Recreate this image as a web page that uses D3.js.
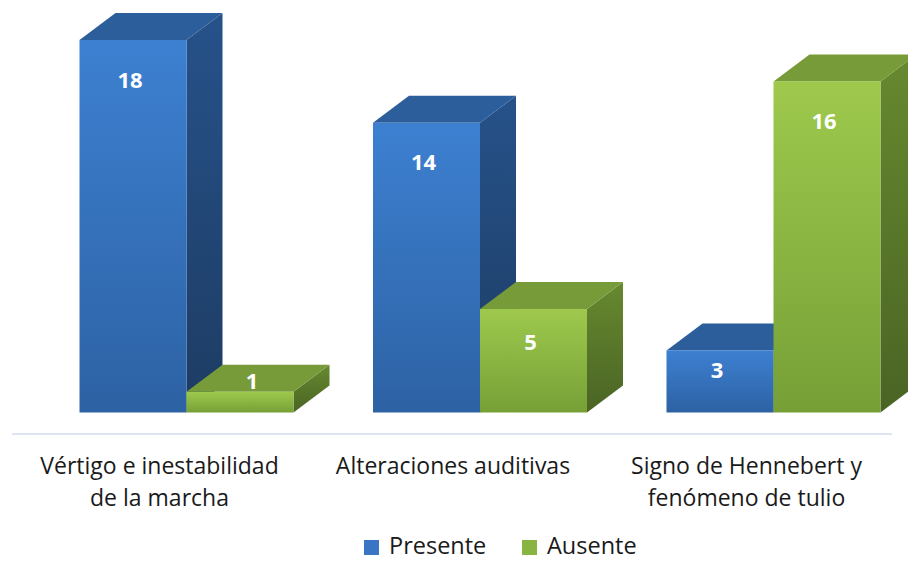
<!DOCTYPE html>
<html>
<head>
<meta charset="utf-8">
<script src="https://cdn.jsdelivr.net/npm/d3@7"></script>
<style>
  body { margin:0; background:#fff; }
  text { font-family: "Open Sans", Lato, sans-serif; }
</style>
</head>
<body>
<svg id="chart" width="908" height="562"></svg>
<script>
// categories (one entry per line of the label)
var categories = [
    ["Vértigo e inestabilidad", "de la marcha"],
    ["Alteraciones auditivas"],
    ["Signo de Hennebert y", "fenómeno de tulio"]
];
var seriesNames = ["Presente", "Ausente"];
var presente = [18, 14, 3];
var ausente = [1, 5, 16];

var svg = d3.select("#chart");

//3d depth of the bars
var depth = {dx:36, dy:27};

var colors = {
    Presente: {front:["#3d80d1","#2d62a4"], top:"#2c5e9c", side:["#26528a","#1d3c63"], legend:"#3a74c4"},
    Ausente: {front:["#9ec94d","#76a036"], top:"#779b38", side:["#67892f","#4a6424"], legend:"#8ab441"}
};

var keys = categories.map(function(c){ return c.join(" "); });

var x0 = d3.scaleBand()
    .domain(keys)
    .range([39.75, 920.25])
    .paddingInner(0.2709)
    .paddingOuter(0.13545);

var x1 = d3.scaleBand()
    .domain(seriesNames)
    .range([0, x0.bandwidth()])
    .padding(0);

var yScale = d3.scaleLinear()
    .domain([0, 18])
    .range([412.5, 40]);

var defs = svg.append("defs");
seriesNames.forEach(function(s)
{
    [["front", colors[s].front], ["side", colors[s].side]].forEach(function(p)
    {
        var g = defs.append("linearGradient")
            .attr("id", "g-" + s + "-" + p[0])
            .attr("x1",0).attr("y1",0).attr("x2",0).attr("y2",1);
        g.append("stop").attr("offset","0%").attr("stop-color",p[1][0]);
        g.append("stop").attr("offset","100%").attr("stop-color",p[1][1]);
    });
});

//floor line
svg.append("line")
    .attr("x1",12).attr("x2",892)
    .attr("y1",434).attr("y2",434)
    .attr("stroke","#dce6f2")
    .attr("stroke-width",2);

var bars = [];
keys.forEach(function(k, i)
{
    bars.push({cat:k, series:"Presente", value:presente[i]});
    bars.push({cat:k, series:"Ausente", value:ausente[i]});
});

var barG = svg.append("g").attr("class","bars");

bars.forEach(function(b)
{
    var xl = x0(b.cat) + x1(b.series);
    var xr = xl + x1.bandwidth();
    var yt = yScale(b.value);
    var yb = yScale(0);
    var g = barG.append("g");

    //side face
    g.append("path")
        .attr("d", "M"+xr+","+yt+" L"+(xr+depth.dx)+","+(yt-depth.dy)+
              " L"+(xr+depth.dx)+","+(yb-depth.dy)+" L"+xr+","+yb+"Z")
        .attr("fill","url(#g-"+b.series+"-side)");

    //top face
    g.append("path")
        .attr("d", "M"+xl+","+yt+" L"+(xl+depth.dx)+","+(yt-depth.dy)+
              " L"+(xr+depth.dx)+","+(yt-depth.dy)+" L"+xr+","+yt+"Z")
        .attr("fill",colors[b.series].top);

    //front face
    g.append("rect")
        .attr("x",xl).attr("y",yt)
        .attr("width",xr-xl).attr("height",yb-yt)
        .attr("fill","url(#g-"+b.series+"-front)");

    var h = yb - yt;
    var lx = (xl+xr)/2 - 3;
    var ly = yt + Math.min(h*0.32, 40);
    if (h < 30)
    {
        lx = (xl+xr)/2 + depth.dx/3;
        ly = yt - depth.dy/2 + 3;
    }
    g.append("text")
        .attr("x",lx).attr("y",ly)
        .attr("dy","0.35em")
        .attr("text-anchor","middle")
        .attr("fill","#fff")
        .attr("font-weight","bold")
        .attr("font-size","22px")
        .text(b.value);
});

//category labels
var catG = svg.append("g").attr("class","categories");
categories.forEach(function(lines, i)
{
    var cx = x0(keys[i]) + x0.bandwidth()/2 - 27;
    var t = catG.append("text")
        .attr("text-anchor","middle")
        .attr("font-size","23px")
        .attr("fill","#1a1a1a");
    lines.forEach(function(line, j)
    {
        t.append("tspan")
            .attr("x",cx)
            .attr("y",474 + j*32)
            .text(line);
    });
});

//legend
var legend = svg.append("g").attr("class","legend");
var legendX = [364, 522];
seriesNames.forEach(function(s, i)
{
    legend.append("rect")
        .attr("x",legendX[i]).attr("y",540)
        .attr("width",15).attr("height",15)
        .attr("fill",colors[s].legend);
    legend.append("text")
        .attr("x",legendX[i]+25).attr("y",554)
        .attr("font-size","23.5px")
        .attr("fill","#1a1a1a")
        .text(s);
});
</script>
</body>
</html>
